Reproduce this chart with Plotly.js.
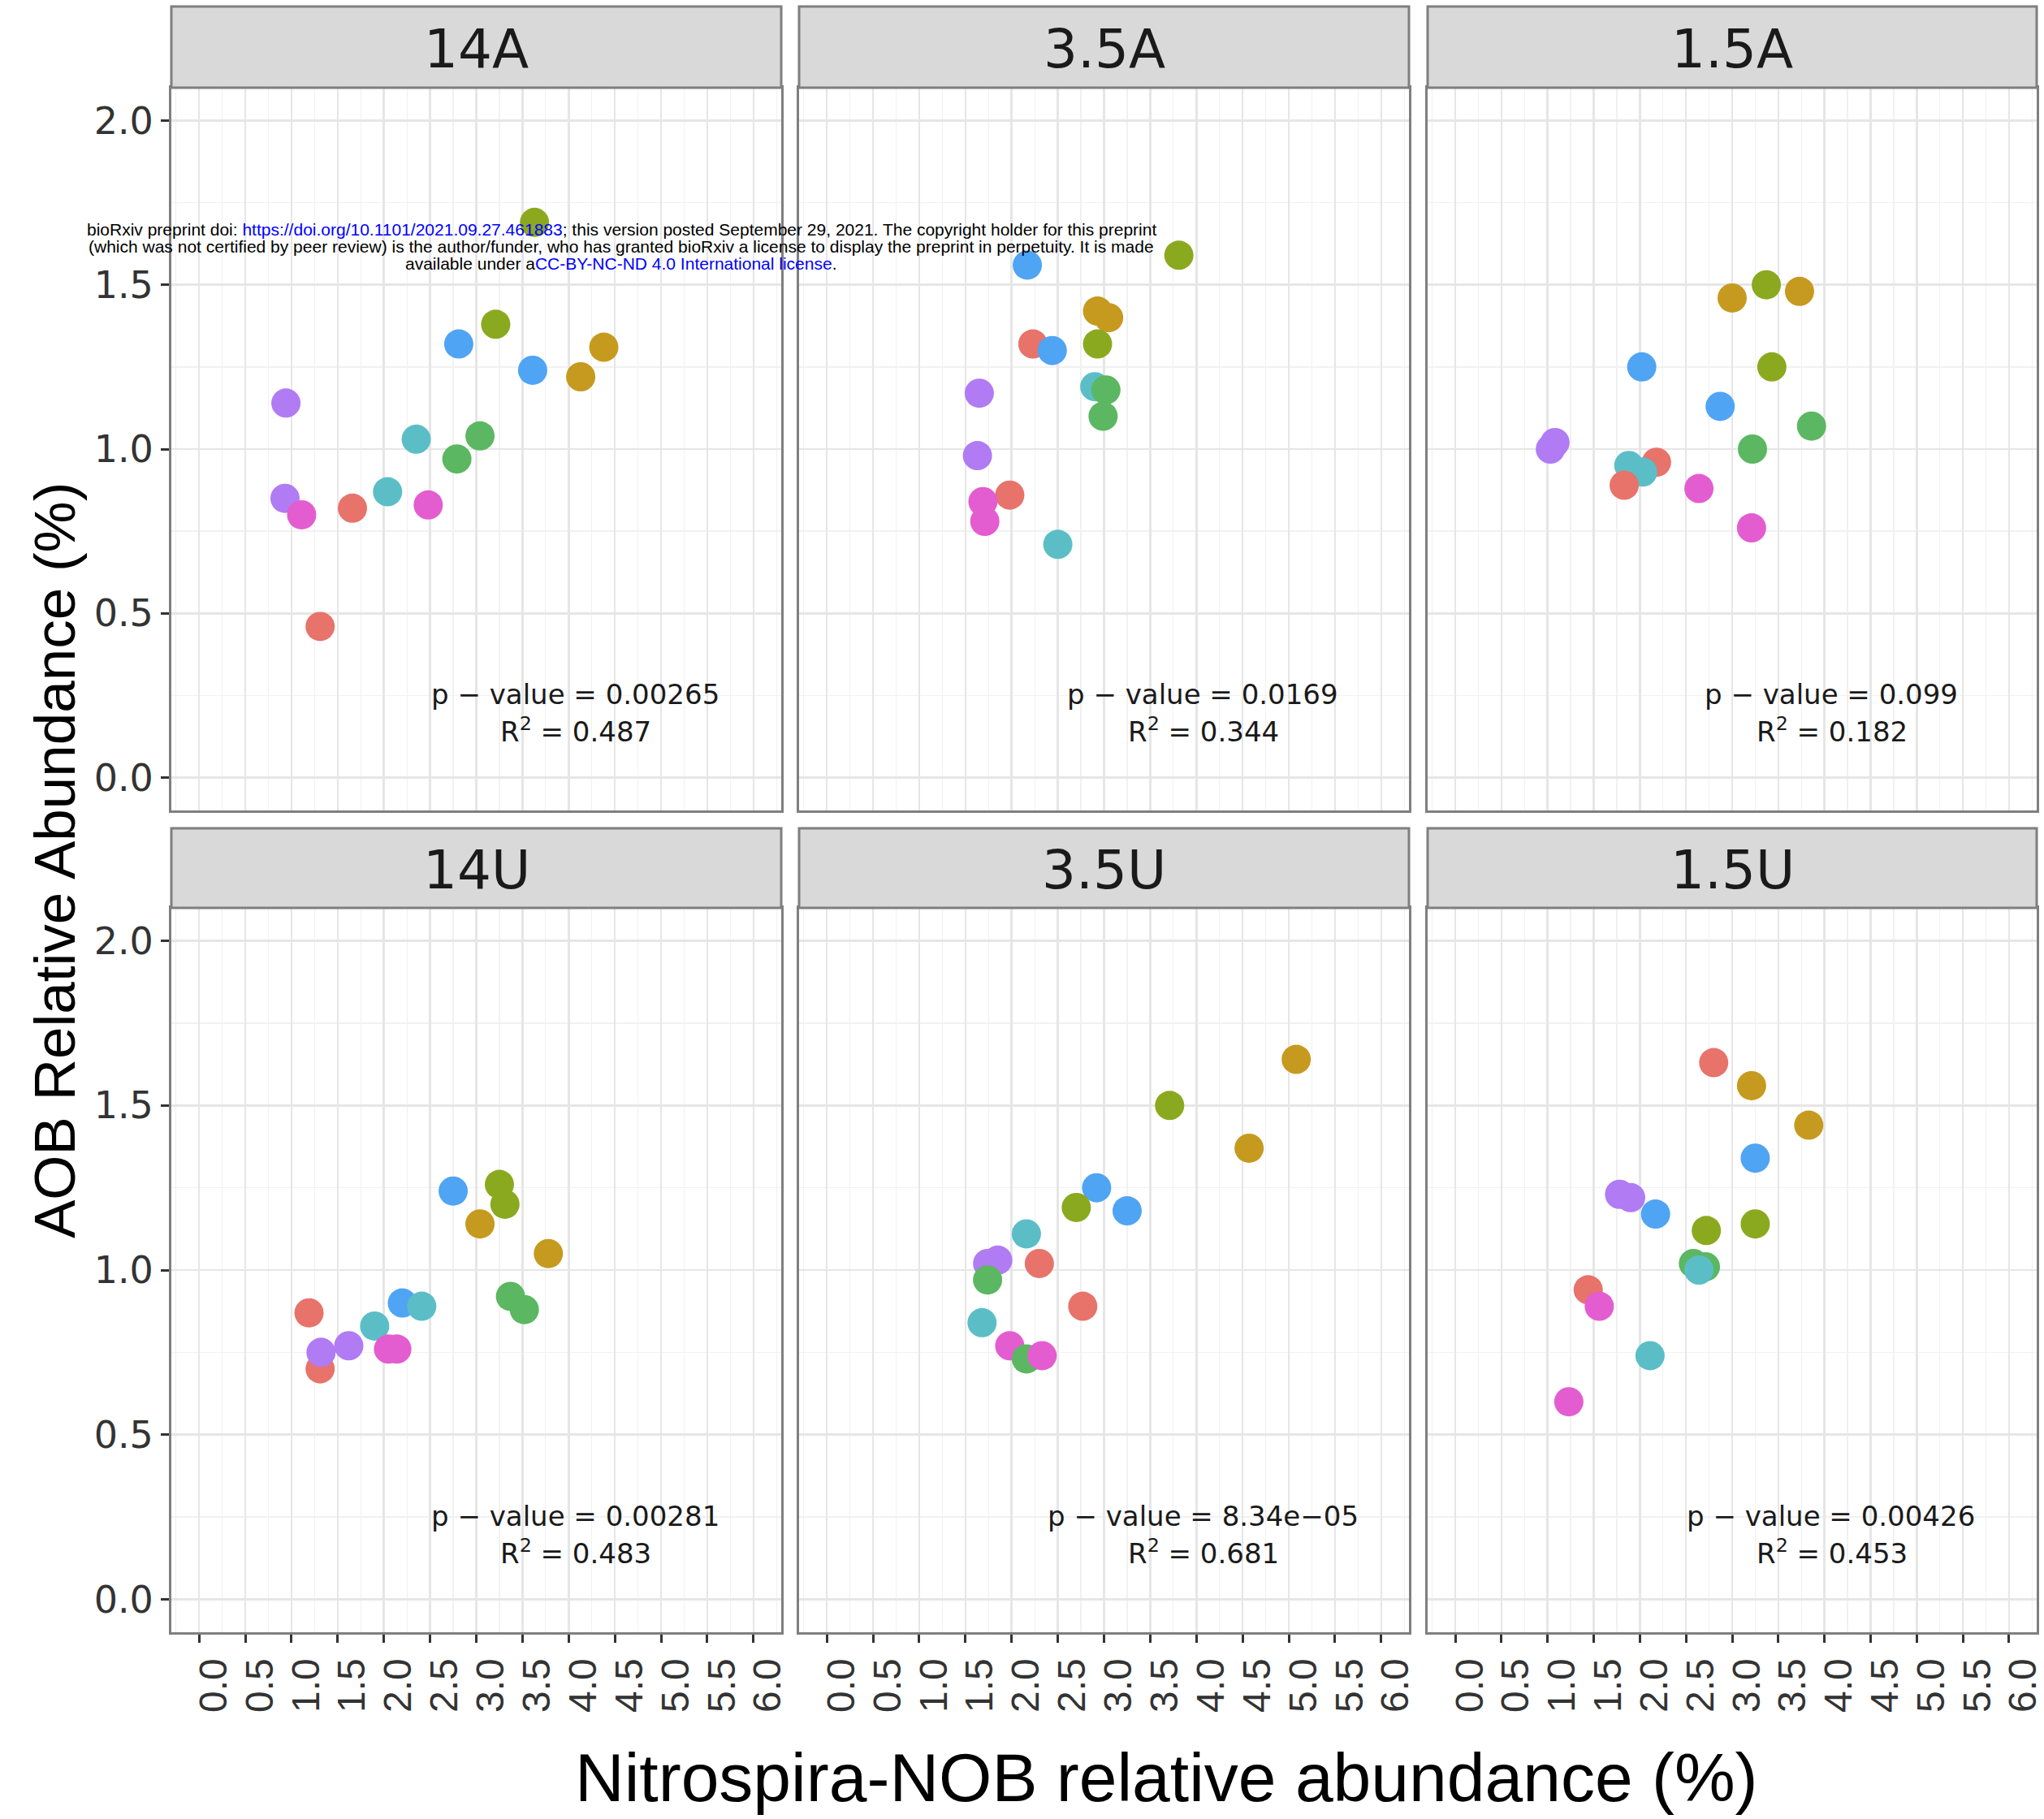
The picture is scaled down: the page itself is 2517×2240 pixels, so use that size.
<!DOCTYPE html>
<html>
<head>
<meta charset="utf-8">
<script src="https://cdn.plot.ly/plotly-3.0.1.min.js"></script>
<style>
html, body { margin: 0; padding: 0; background: #ffffff; }
#chart { width: 2517px; height: 2240px; }
</style>
</head>
<body>
<div id="chart"></div>
<script>
// ---------------- DATA ----------------
const panelNames = ['14A', '3.5A', '1.5A', '14U', '3.5U', '1.5U'];
const groupNames = ['G1', 'G2', 'G3', 'G4', 'G5', 'G6', 'G7', 'G8'];
const pValues = ['0.00265', '0.0169', '0.099', '0.00281', '8.34e\u221205', '0.00426'];
const rSquared = ['0.487', '0.344', '0.182', '0.483', '0.681', '0.453'];
const xTickValues = [0, 0.5, 1, 1.5, 2, 2.5, 3, 3.5, 4, 4.5, 5, 5.5, 6];
const yTickValues = [0, 0.5, 1, 1.5, 2];
const xTitle = 'Nitrospira-NOB relative abundance (%)';
const yTitle = 'AOB Relative Abundance (%)';

// 14A
const x14A = [0.94, 0.93, 1.11, 1.66, 2.04, 2.48, 2.35, 2.79, 3.04, 2.81, 3.21, 3.61, 4.13, 4.38, 3.63, 1.31];
const y14A = [1.14, 0.85, 0.80, 0.82, 0.87, 0.83, 1.03, 0.97, 1.04, 1.32, 1.38, 1.24, 1.22, 1.31, 1.69, 0.46];
const g14A = ['G7','G7','G8','G1','G5','G8','G5','G4','G4','G6','G3','G6','G2','G2','G3','G1'];
// 3.5A
const x35A = [2.17, 3.81, 2.93, 3.05, 2.23, 2.44, 2.93, 1.65, 2.90, 3.02, 2.99, 1.63, 1.98, 1.69, 1.71, 2.50];
const y35A = [1.56, 1.59, 1.42, 1.40, 1.32, 1.30, 1.32, 1.17, 1.19, 1.18, 1.10, 0.98, 0.86, 0.84, 0.78, 0.71];
const g35A = ['G6','G3','G2','G2','G1','G6','G3','G7','G5','G4','G4','G7','G1','G8','G8','G5'];
// 1.5A
const x15A = [3.00, 3.37, 3.73, 2.02, 3.43, 2.87, 3.86, 3.22, 1.03, 1.08, 2.18, 1.88, 2.03, 1.83, 2.64, 3.21];
const y15A = [1.46, 1.50, 1.48, 1.25, 1.25, 1.13, 1.07, 1.00, 1.00, 1.02, 0.96, 0.95, 0.93, 0.89, 0.88, 0.76];
const g15A = ['G2','G3','G2','G6','G3','G6','G4','G4','G7','G7','G1','G5','G5','G1','G8','G8'];
// 14U
const x14U = [1.19, 1.31, 1.32, 1.62, 1.90, 2.05, 2.14, 2.20, 2.41, 2.75, 3.25, 3.31, 3.04, 3.78, 3.37, 3.52];
const y14U = [0.87, 0.70, 0.75, 0.77, 0.83, 0.76, 0.76, 0.90, 0.89, 1.24, 1.26, 1.20, 1.14, 1.05, 0.92, 0.88];
const g14U = ['G1','G1','G7','G7','G5','G8','G8','G6','G5','G6','G3','G3','G2','G2','G4','G4'];
// 3.5U
const x35U = [5.08, 3.71, 4.57, 2.92, 2.70, 3.25, 2.16, 1.74, 1.85, 2.30, 1.74, 2.77, 1.68, 1.98, 2.16, 2.33];
const y35U = [1.64, 1.50, 1.37, 1.25, 1.19, 1.18, 1.11, 1.02, 1.03, 1.02, 0.97, 0.89, 0.84, 0.77, 0.73, 0.74];
const g35U = ['G2','G3','G2','G6','G3','G6','G5','G7','G7','G1','G4','G1','G5','G8','G4','G8'];
// 1.5U
const x15U = [2.80, 3.21, 3.83, 3.25, 1.78, 1.90, 2.17, 2.72, 3.25, 2.58, 2.71, 2.64, 1.44, 1.56, 2.11, 1.23];
const y15U = [1.63, 1.56, 1.44, 1.34, 1.23, 1.22, 1.17, 1.12, 1.14, 1.02, 1.01, 1.00, 0.94, 0.89, 0.74, 0.60];
const g15U = ['G1','G2','G2','G6','G7','G7','G6','G3','G3','G4','G4','G5','G1','G8','G5','G8'];

// ---------------- STYLE ----------------
const groupColors = {
  G1: '#E7736B', G2: '#C69A1F', G3: '#8BA91F', G4: '#5BB761',
  G5: '#5BBEC7', G6: '#4FA4F4', G7: '#B07BF3', G8: '#E35DD0'
};
const W = 2517, H = 2240;
const colPx = [[211, 962], [984, 1735], [1758, 2508]];
const rowPx = [[108, 998], [1118, 2010]];       // plot area top/bottom (px from top)
const stripPx = [[8, 108], [1020, 1118]];       // strip top/bottom
const px2x = p => p / W;
const px2y = p => 1 - p / H;

const SANS = 'Liberation Sans, Arial, Helvetica, sans-serif';
const WIDE = 'DejaVu Sans, Verdana, sans-serif';
const BORDER = '#7F7F7F';

const panelData = [
  [x14A, y14A, g14A], [x35A, y35A, g35A], [x15A, y15A, g15A],
  [x14U, y14U, g14U], [x35U, y35U, g35U], [x15U, y15U, g15U]
];

const traces = panelData.map((d, i) => ({
  type: 'scatter',
  mode: 'markers',
  name: panelNames[i],
  x: d[0],
  y: d[1],
  xaxis: i === 0 ? 'x' : 'x' + (i + 1),
  yaxis: i === 0 ? 'y' : 'y' + (i + 1),
  marker: { size: 36, color: d[2].map(g => groupColors[g]), line: { width: 0 }, opacity: 1 },
  hoverinfo: 'x+y'
}));

const layout = {
  width: W, height: H,
  margin: { l: 0, r: 0, t: 0, b: 0, pad: 0 },
  paper_bgcolor: '#ffffff',
  plot_bgcolor: '#ffffff',
  showlegend: false,
  font: { family: SANS, color: '#333333' },
  shapes: [],
  annotations: []
};

for (let i = 0; i < 6; i++) {
  const col = i % 3, row = Math.floor(i / 3);
  const sfx = i === 0 ? '' : String(i + 1);
  layout['xaxis' + sfx] = {
    domain: [px2x(colPx[col][0]), px2x(colPx[col][1])],
    anchor: 'y' + sfx,
    range: [-0.3, 6.3],
    tickmode: 'array',
    tickvals: xTickValues,
    ticktext: xTickValues.map(v => v.toFixed(1)),
    showgrid: true, gridcolor: '#E6E6E6', gridwidth: 2.5,
    minor: { dtick: 0.25, tick0: 0, showgrid: true, gridcolor: '#F1F1F1', gridwidth: 1.3, ticks: '' },
    zeroline: false,
    showline: true, mirror: true, linecolor: BORDER, linewidth: 3,
    ticks: row === 1 ? 'outside' : '',
    ticklen: 10, tickwidth: 3, tickcolor: '#333333',
    showticklabels: row === 1,
    tickangle: -90,
    ticklabelshift: 18,
    ticklabeloverflow: 'allow',
    tickfont: { family: SANS, size: 48, color: '#333333' },
    fixedrange: true
  };
  layout['yaxis' + sfx] = {
    domain: [px2y(rowPx[row][1]), px2y(rowPx[row][0])],
    anchor: 'x' + sfx,
    range: [-0.1, 2.1],
    tickmode: 'array',
    tickvals: yTickValues,
    ticktext: yTickValues.map(v => v.toFixed(1)),
    showgrid: true, gridcolor: '#E6E6E6', gridwidth: 2.5,
    minor: { dtick: 0.25, tick0: 0, showgrid: true, gridcolor: '#F1F1F1', gridwidth: 1.3, ticks: '' },
    zeroline: false,
    showline: true, mirror: true, linecolor: BORDER, linewidth: 3,
    ticks: col === 0 ? 'outside' : '',
    ticklen: 10, tickwidth: 3, tickcolor: '#333333',
    showticklabels: col === 0,
    tickfont: { family: WIDE, size: 46, color: '#333333' },
    fixedrange: true
  };

  // strip
  layout.shapes.push({
    type: 'rect', xref: 'paper', yref: 'paper',
    x0: px2x(colPx[col][0]), x1: px2x(colPx[col][1]),
    y0: px2y(stripPx[row][1]), y1: px2y(stripPx[row][0]),
    fillcolor: '#D9D9D9', line: { color: BORDER, width: 3 }, layer: 'above'
  });
  layout.annotations.push({
    xref: 'paper', yref: 'paper',
    x: px2x((colPx[col][0] + colPx[col][1]) / 2),
    y: px2y(row === 0 ? 60 : 1071),
    xanchor: 'center', yanchor: 'middle',
    text: panelNames[i], showarrow: false,
    font: { family: WIDE, size: 66, color: '#1A1A1A' }
  });
  // statistics
  layout.annotations.push({
    xref: 'x' + sfx, yref: 'y' + sfx,
    x: 4.07, y: 0.253, xanchor: 'center', yanchor: 'middle',
    text: 'p \u2212 value = ' + pValues[i], showarrow: false,
    font: { family: WIDE, size: 34, color: '#1A1A1A' }
  });
  layout.annotations.push({
    xref: 'x' + sfx, yref: 'y' + sfx,
    x: 4.08, y: 0.145, xanchor: 'center', yanchor: 'middle',
    text: 'R<sup>2</sup> = ' + rSquared[i], showarrow: false,
    font: { family: WIDE, size: 34, color: '#1A1A1A' }
  });
}

// axis titles
layout.annotations.push({
  xref: 'paper', yref: 'paper', x: px2x(1436), y: px2y(2189),
  xanchor: 'center', yanchor: 'middle', showarrow: false,
  text: xTitle, font: { family: SANS, size: 84, color: '#000000' }
});
layout.annotations.push({
  xref: 'paper', yref: 'paper', x: px2x(67), y: px2y(1060),
  xanchor: 'center', yanchor: 'middle', showarrow: false, textangle: -90,
  text: yTitle, font: { family: SANS, size: 71, color: '#000000' }
});

// preprint notice overlay
const noticeLines = [
  'bioRxiv preprint doi: <span style="color:#0000FF">https://doi.org/10.1101/2021.09.27.461883</span>; this version posted September 29, 2021. The copyright holder for this preprint',
  '(which was not certified by peer review) is the author/funder, who has granted bioRxiv a license to display the preprint in perpetuity. It is made',
  'available under a<span style="color:#0000FF">CC-BY-NC-ND 4.0 International license</span>.'
];
const noticeY = [282, 303, 325];
noticeLines.forEach((t, k) => {
  layout.annotations.push({
    xref: 'paper', yref: 'paper', x: px2x(765), y: px2y(noticeY[k]),
    xanchor: 'center', yanchor: 'middle', showarrow: false,
    text: t, font: { family: SANS, size: 21, color: '#000000' }
  });
});

Plotly.newPlot('chart', traces, layout, { staticPlot: true, displayModeBar: false });
</script>
</body>
</html>
